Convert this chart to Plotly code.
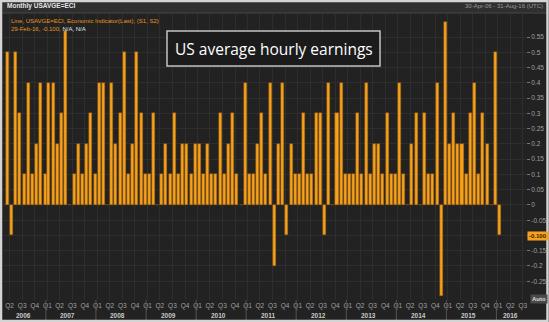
import pandas as pd
import plotly.graph_objects as go

# Monthly change in US average hourly earnings, % m/m (Apr 2006 .. Feb 2016)
month_labels = [p.strftime("%Y-%m") for p in pd.period_range("2006-04", "2016-02", freq="M")]
values_2006 = [0.5, -0.1, 0.5, 0.3, 0.1, 0.4, 0.1, 0.2, 0.4]
values_2007 = [0.1, 0.4, 0.4, 0.2, 0.3, 0.57, 0.0, 0.1, 0.2, 0.1, 0.2, 0.3]
values_2008 = [0.1, 0.4, 0.4, 0.0, 0.4, 0.2, 0.3, 0.5, 0.1, 0.2, 0.5, 0.3]
values_2009 = [0.1, 0.1, 0.3, 0.0, 0.1, 0.2, 0.1, 0.3, 0.1, 0.2, 0.2, 0.1]
values_2010 = [0.2, 0.2, 0.1, 0.2, 0.1, 0.1, 0.3, 0.1, 0.2, 0.3, 0.1, 0.0]
values_2011 = [0.4, 0.1, 0.1, 0.2, 0.3, 0.1, 0.4, -0.2, 0.2, 0.4, -0.1, 0.2]
values_2012 = [0.1, 0.1, 0.3, 0.1, 0.1, 0.3, 0.3, -0.1, 0.4, 0.0, 0.3, 0.4]
values_2013 = [0.1, 0.1, 0.1, 0.3, 0.1, 0.4, 0.1, 0.2, 0.2, 0.1, 0.3, 0.1]
values_2014 = [0.1, 0.4, 0.1, 0.0, 0.2, 0.3, 0.0, 0.3, 0.1, 0.1, 0.4, -0.3]
values_2015 = [0.6, 0.2, 0.3, 0.2, 0.2, 0.1, 0.3, 0.4, 0.1, 0.3, 0.2, 0.0]
values_2016 = [0.5, -0.1]
values = (values_2006 + values_2007 + values_2008 + values_2009 + values_2010 + values_2011
          + values_2012 + values_2013 + values_2014 + values_2015 + values_2016)

quarter_labels = [f"Q{p.quarter}" for p in pd.period_range("2006Q2", "2016Q3", freq="Q")]
year_labels = [str(y) for y in range(2006, 2017)]
y_tick_values = [round(-0.25 + 0.05 * i, 2) for i in range(17)]

ORANGE = "#f5a11c"
BG = "#222222"
GRID = "#2e2e2e"

W, H = 549, 322
ML, MR, MT, MB = 3, 23, 14, 22
PW, PH = W - ML - MR, H - MT - MB


def px(x):
    return (x - ML) / PW


def py(y):
    return 1 - (y - MT) / PH


# bars sit on month-end dates
bar_dates = [pd.Period(m, freq="M").end_time.normalize() for m in month_labels]
quarters = pd.period_range("2006Q2", "2016Q3", freq="Q")
q_dates = [q.asfreq("M", how="start").end_time.normalize() + pd.Timedelta(days=17) for q in quarters]

fig = go.Figure()
fig.add_trace(go.Bar(
    x=bar_dates, y=values,
    width=22 * 86400000,
    marker=dict(color=ORANGE, line=dict(color="#8a5512", width=0.5)),
    hoverinfo="x+y",
))

# year separators and year captions below the quarter labels
shapes = []
annotations = []
for yr in year_labels:
    y = int(yr)
    if y > 2006:
        sep = pd.Timestamp(f"{y}-01-31") + pd.Timedelta(days=6)
        shapes.append(dict(type="line", xref="x", yref="paper", x0=sep, x1=sep,
                           y0=py(300), y1=py(321), line=dict(color="#555555", width=1)))
    lo = max(pd.Timestamp(f"{y}-01-01"), pd.Timestamp("2006-03-30"))
    hi = min(pd.Timestamp(f"{y}-12-31"), pd.Timestamp("2016-09-09"))
    mid = lo + (hi - lo) / 2 + pd.Timedelta(days=14)
    annotations.append(dict(x=mid, y=py(315.5), xref="x", yref="paper", text=f"<b>{yr}</b>",
                            showarrow=False, font=dict(size=6.5, color="#c8c8c8"),
                            xanchor="center", yanchor="middle"))

# header strip
shapes.append(dict(type="rect", xref="paper", yref="paper", x0=px(0), x1=px(W), y0=py(13), y1=py(0),
                   fillcolor="#2f2f2f", line=dict(width=0), layer="below"))
shapes.append(dict(type="line", xref="paper", yref="paper", x0=px(0), x1=px(W), y0=py(13), y1=py(13),
                   line=dict(color="#474747", width=1)))
# title box
shapes.append(dict(type="rect", xref="paper", yref="paper", x0=px(167), x1=px(380), y0=py(66), y1=py(31),
                   fillcolor="#1b1b1b", line=dict(color="#c4c4c4", width=1.5)))
# outer frame
shapes.append(dict(type="rect", xref="paper", yref="paper", x0=px(1), x1=px(W - 1.5), y0=py(H - 1), y1=py(1),
                   line=dict(color="#d4d4d4", width=2.5)))

annotations += [
    dict(x=px(5), y=py(6.5), text="<b>Monthly USAVGE=ECI</b>", font=dict(size=6.5, color="#e6e6e6")),
    dict(x=px(545), y=py(6.5), text="30-Apr-06 - 31-Aug-16 (UTC)", font=dict(size=6, color="#9a9a9a"),
         xanchor="right"),
    dict(x=px(9), y=py(21), text="Line, USAVGE=ECI, Economic Indicator(Last), (S1, S2)",
         font=dict(size=6, color="#e8951c")),
    dict(x=px(9), y=py(28.5),
         text="29-Feb-16, -0.100, <span style='color:#dfe8f0'>N/A, N/A</span>",
         font=dict(size=6, color="#e8951c")),
    dict(x=px(273.5), y=py(48.5), text="US average hourly earnings",
         font=dict(size=15.5, color="#ffffff", family="Open Sans"), xanchor="center"),
    dict(x=px(537.5), y=py(236), text="<b>-0.100</b>", font=dict(size=6, color="#3a2200"),
         bgcolor=ORANGE, borderpad=1, xanchor="center"),
    dict(x=px(538.5), y=py(298.5), text="<b>Auto</b>", font=dict(size=6, color="#dddddd"),
         bgcolor="#4a4a4a", borderpad=1, xanchor="center"),
]
for a in annotations:
    a.setdefault("xref", "paper")
    a.setdefault("yref", "paper")
    a.setdefault("showarrow", False)
    a.setdefault("xanchor", "left")
    a.setdefault("yanchor", "middle")

fig.update_layout(
    width=W, height=H,
    margin=dict(l=ML, r=MR, t=MT, b=MB, pad=0),
    paper_bgcolor=BG, plot_bgcolor=BG,
    font=dict(family="Liberation Sans, Arial, sans-serif", color="#9a9a9a"),
    showlegend=False,
    bargap=0,
    shapes=shapes,
    annotations=annotations,
    xaxis=dict(
        type="date",
        range=["2006-03-30", "2016-09-09"],
        tickmode="array", tickvals=q_dates, ticktext=quarter_labels,
        tickfont=dict(size=6.5, color="#a0a0a0"),
        ticks="", showgrid=True, gridcolor=GRID, gridwidth=1,
        zeroline=False, showline=False, fixedrange=True,
    ),
    yaxis=dict(
        side="right",
        range=[-0.3115, 0.626],
        tickmode="array", tickvals=y_tick_values,
        ticktext=["" if abs(v + 0.1) < 1e-9 else f"{v:g}" for v in y_tick_values],
        tickfont=dict(size=6.5, color="#a0a0a0"),
        ticks="outside", ticklen=3, tickcolor="#777777",
        showgrid=True, gridcolor=GRID, gridwidth=1,
        zeroline=False, showline=False, fixedrange=True,
    ),
)

fig.write_html("out.html")
